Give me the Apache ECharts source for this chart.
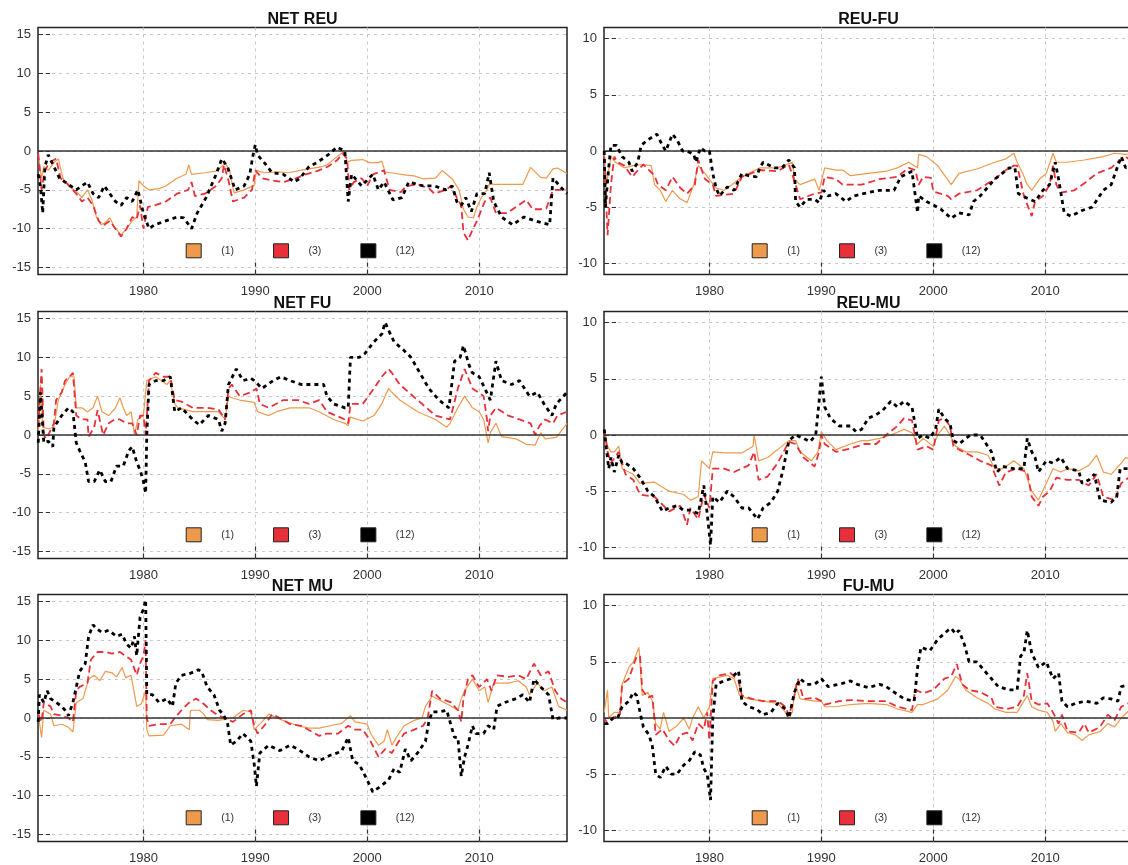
<!DOCTYPE html>
<html>
<head>
<meta charset="utf-8">
<title>Net spillovers</title>
<script src="https://cdn.jsdelivr.net/npm/echarts@6/dist/echarts.min.js"></script>
<style>
  html, body { margin: 0; padding: 0; background: #ffffff; overflow: hidden; }
  #chart { width: 1140px; height: 865px; }
</style>
</head>
<body>
<div id="chart"></div>
<script>
// ---- tick labels ----
const xTicks = [1980, 1990, 2000, 2010];
const yTicksWide = [-15, -10, -5, 0, 5, 10, 15];
const yTicksNarrow = [-10, -5, 0, 5, 10];
const seriesNames = ['(1)', '(3)', '(12)'];

// ---- NET REU ----
const netReu1 = [[1970.6,-0.5],[1970.9,-3.5],[1971.1,-2],[1971.5,-2.5],[1972.0,-1.5],[1972.4,-1],[1972.8,-3.5],[1973.3,-4.5],[1974.0,-5.2],[1974.5,-6],[1975.0,-5],[1975.4,-6.3],[1975.8,-8.5],[1976.2,-9.5],[1976.6,-9.2],[1977.0,-8.6],[1977.4,-9.8],[1978.0,-10.8],[1978.5,-10],[1979.0,-9],[1979.4,-8.5],[1979.6,-3.8],[1980.0,-4.5],[1980.5,-5],[1981.5,-4.8],[1982.0,-4.5],[1983.0,-3.5],[1983.8,-3],[1984.05,-1.8],[1984.3,-3],[1985.5,-2.8],[1986.5,-2.6],[1987.0,-2],[1987.3,-1.5],[1987.7,-2.5],[1988.1,-5.4],[1989.0,-5],[1989.9,-4.4],[1990.1,-2.5],[1990.8,-2.8],[1992.0,-2.7],[1993.0,-2.8],[1994.0,-2.5],[1994.8,-2.3],[1996.0,-2],[1996.4,-1.8],[1997.4,-0.6],[1998.0,0],[1998.2,-1.4],[1998.6,-1.2],[1999.6,-1.1],[2000.2,-1.5],[2001.0,-1.5],[2001.3,-1.3],[2001.6,-2.7],[2002.5,-2.9],[2003.5,-3.1],[2004.2,-3.2],[2005.0,-3.6],[2006.1,-3.5],[2006.7,-2.5],[2007.6,-3.6],[2008.2,-5],[2008.6,-7.5],[2009.0,-8.5],[2009.5,-8.6],[2009.8,-7.2],[2010.2,-6],[2010.7,-5],[2010.9,-4.3],[2012.0,-4.3],[2013.9,-4.3],[2014.6,-2.1],[2015.5,-3.4],[2016.0,-3.5],[2016.6,-2.3],[2017.0,-2.2],[2017.85,-2.9]];
const netReu3 = [[1970.6,-0.3],[1970.9,-5],[1971.2,-2.5],[1971.6,-1.5],[1972.2,-1],[1972.6,-3.5],[1973.2,-4.2],[1974.0,-5.5],[1974.5,-6.5],[1975.0,-6],[1975.5,-7],[1976.0,-9],[1976.4,-9.6],[1977.0,-9],[1977.5,-10],[1978.0,-11],[1978.5,-10],[1979.0,-8.5],[1979.4,-8.8],[1979.7,-7],[1980.0,-10],[1980.4,-7.2],[1981.0,-7],[1982.0,-6.5],[1983.0,-5.5],[1984.0,-5],[1984.3,-4],[1984.6,-5.8],[1985.5,-5.5],[1986.5,-4.5],[1987.0,-3.5],[1987.2,-1.8],[1987.6,-3.8],[1988.0,-6.5],[1989.0,-6],[1989.7,-5],[1990.0,-2.5],[1990.6,-3.5],[1991.5,-3.8],[1992.5,-4],[1993.5,-3.6],[1994.5,-3],[1995.5,-2.6],[1996.5,-2],[1997.3,-1.2],[1997.8,-0.3],[1998.2,-1],[1998.4,-5],[1998.8,-4],[1999.5,-3.5],[2000.0,-4.5],[2000.5,-3],[2001.5,-2.5],[2002.0,-5],[2003.0,-5.3],[2003.5,-4.5],[2004.5,-4.3],[2005.5,-4.8],[2006.0,-5.5],[2007.0,-5],[2007.5,-4.5],[2008.0,-6],[2008.4,-7],[2008.6,-10.5],[2009.0,-11.5],[2009.3,-10.5],[2009.8,-9],[2010.5,-6.5],[2011.0,-6],[2011.5,-8],[2012.5,-8],[2013.5,-7],[2014.2,-6.3],[2014.8,-7.5],[2015.5,-7.5],[2016.0,-7.4],[2016.6,-5],[2017.85,-5]];
const netReu12 = [[1970.6,-3],[1970.8,-4.5],[1971.0,-8],[1971.2,-2],[1971.5,-0.5],[1972.0,-2],[1972.5,-3.5],[1973.0,-4],[1973.5,-4.5],[1974.0,-5],[1974.5,-4.5],[1975.0,-4],[1975.5,-5.5],[1976.0,-6],[1976.5,-4.5],[1977.0,-5.5],[1977.5,-6.5],[1978.0,-7],[1978.5,-6],[1979.0,-6.5],[1979.5,-5],[1980.0,-8],[1980.5,-10],[1981.0,-9.5],[1982.0,-9],[1983.0,-8.5],[1983.6,-8.6],[1984.3,-10],[1984.8,-8],[1985.6,-6],[1986.5,-3],[1987.0,-1],[1987.5,-2],[1988.2,-5],[1989.0,-4.5],[1989.5,-3],[1989.8,-0.5],[1990.0,0.8],[1990.2,-0.5],[1990.8,-1.5],[1991.5,-2.8],[1992.5,-3],[1993.5,-4],[1994.0,-3.5],[1994.8,-2],[1995.5,-1.5],[1996.5,-0.5],[1997.3,0.5],[1998.0,0],[1998.3,-6.5],[1998.6,-3],[1999.5,-4.5],[2000.5,-3],[2001.0,-5],[2001.5,-4],[2002.3,-6.3],[2003.1,-6],[2003.7,-4],[2005.0,-4.5],[2006.0,-4.5],[2007.0,-5],[2007.6,-4.5],[2008.0,-6.5],[2008.4,-7],[2008.8,-6],[2009.3,-7.8],[2009.8,-5.5],[2010.5,-5.5],[2010.9,-2.8],[2011.3,-6.5],[2012.0,-8.5],[2013.0,-9.5],[2014.0,-8.5],[2015.0,-9],[2016.3,-9.5],[2016.6,-3.5],[2017.2,-4.5],[2017.85,-5.5]];

// ---- REU-FU ----
const reuFu1 = [[1970.6,-0.2],[1970.8,-3],[1971.2,-0.5],[1971.6,-1],[1972.4,-1.5],[1973.2,-1.3],[1974.0,-1.2],[1974.8,-1.3],[1975.1,-3],[1975.6,-3.5],[1976.1,-4.5],[1976.7,-3.5],[1977.3,-4.2],[1978.0,-4.6],[1978.6,-3],[1979.0,-1.3],[1979.6,-2],[1980.6,-3.3],[1981.3,-3.5],[1982.0,-3],[1982.9,-2.3],[1984.5,-1.5],[1986.1,-1.5],[1987.4,-1],[1987.6,-2.5],[1988.1,-3],[1989.4,-2.5],[1989.8,-3.5],[1990.3,-1.5],[1991.3,-1.7],[1991.9,-1.7],[1992.6,-2.2],[1994.2,-2],[1995.8,-1.8],[1996.8,-1.5],[1997.8,-1],[1998.6,-1.5],[1998.7,-0.3],[1999.4,-0.5],[2000.4,-1.3],[2001.6,-3],[2002.3,-2],[2003.9,-1.6],[2005.5,-1],[2006.5,-0.7],[2007.2,-0.2],[2007.5,-1],[2008.0,-2],[2008.4,-3],[2008.8,-3.5],[2009.5,-2.5],[2010.1,-2],[2010.7,-0.2],[2011.0,-1],[2012.0,-1],[2013.5,-0.8],[2015.2,-0.5],[2016.2,-0.2],[2017.2,-0.3],[2017.85,-0.2]];
const reuFu3 = [[1970.6,-0.5],[1970.75,-4],[1970.9,-7.5],[1971.2,-3],[1971.5,-0.5],[1971.8,-1],[1972.4,-1.3],[1973.1,-2.3],[1973.8,-1.5],[1974.1,-1.2],[1975.1,-2.2],[1975.4,-3],[1976.1,-3.5],[1976.7,-2.3],[1977.4,-3.3],[1978.0,-3.8],[1978.7,-3],[1979.0,-0.8],[1979.6,-2.5],[1980.3,-3],[1980.6,-4],[1982.2,-3.8],[1982.9,-2.3],[1984.5,-1.7],[1986.1,-1.8],[1987.1,-1.2],[1987.7,-3],[1988.1,-4.3],[1989.4,-3.8],[1990.0,-3.7],[1990.3,-2.3],[1991.3,-2.5],[1991.9,-3],[1993.6,-3],[1995.2,-2.5],[1996.8,-2.3],[1997.8,-1.5],[1998.4,-1.7],[1998.7,-3],[1999.1,-2.3],[1999.8,-2.4],[2000.0,-3.6],[2001.3,-4],[2001.6,-4.3],[2002.3,-3.8],[2003.9,-3.5],[2005.5,-2.5],[2006.5,-1.7],[2007.2,-1.3],[2007.5,-1.3],[2008.1,-4],[2008.8,-5.8],[2009.1,-4.5],[2009.8,-4],[2010.4,-3],[2010.7,-1.3],[2011.0,-3],[2011.4,-3.7],[2012.6,-3.5],[2013.6,-2.8],[2014.6,-2],[2015.9,-1.5],[2016.7,-0.8],[2017.2,-0.5],[2017.85,-1]];
const reuFu12 = [[1970.6,0],[1970.7,-5],[1971.0,-1.5],[1971.2,0.5],[1971.7,0.5],[1972.2,-0.5],[1972.8,-1],[1973.1,-1.8],[1973.6,-1],[1973.9,0.5],[1974.5,1],[1975.3,1.5],[1975.8,0.5],[1976.1,0],[1976.7,1.5],[1977.1,1],[1977.6,0],[1978.0,0],[1978.6,-0.3],[1978.8,-1],[1979.2,0.3],[1979.6,0],[1980.0,0],[1980.3,-2],[1980.6,-3.3],[1980.9,-4],[1981.6,-3.2],[1982.2,-3.5],[1982.9,-2],[1983.5,-2.2],[1984.2,-2.3],[1984.5,-1.5],[1984.8,-1],[1985.8,-1.5],[1986.5,-1.5],[1987.1,-0.8],[1987.6,-1.5],[1987.7,-4.5],[1988.1,-5],[1988.7,-4.3],[1989.4,-4.3],[1989.8,-4.6],[1990.2,-3.5],[1990.6,-4],[1991.3,-3.8],[1992.2,-4.5],[1992.9,-4],[1994.2,-3.7],[1995.2,-3.5],[1996.5,-3.5],[1997.1,-2.3],[1998.1,-1.8],[1998.6,-5.5],[1998.7,-4],[1999.4,-4.5],[2000.0,-4.8],[2000.7,-5.2],[2001.6,-6],[2002.3,-5.5],[2003.2,-5.7],[2003.6,-4.5],[2004.2,-4],[2005.5,-2.5],[2006.8,-1.5],[2007.3,-1.5],[2007.6,-3.8],[2008.4,-4.2],[2009.1,-4.5],[2009.8,-3.5],[2010.4,-3],[2010.9,-1],[2011.2,-2.5],[2011.7,-5.5],[2012.3,-5.8],[2013.3,-5.3],[2014.2,-5],[2015.2,-3.5],[2015.9,-3],[2016.5,-1.3],[2016.8,-0.5],[2017.2,-1.5],[2017.85,-1.3]];

// ---- NET FU ----
const netFu1 = [[1970.6,0.5],[1970.8,6.5],[1971.0,1],[1971.5,0.8],[1972.0,1],[1972.4,4.5],[1973.0,6.5],[1973.4,7.5],[1973.8,7.5],[1974.0,3.5],[1974.5,3.5],[1975.0,3],[1975.5,3.5],[1975.9,5],[1976.3,3],[1976.9,2.5],[1977.5,3.5],[1977.9,4.8],[1978.2,3.5],[1978.5,2.5],[1978.9,3],[1979.2,0],[1979.5,2],[1980.0,2.5],[1980.3,7],[1981.1,7.5],[1982.1,6.5],[1982.4,7],[1982.8,4],[1983.1,3.5],[1984.4,3],[1985.4,3],[1986.7,3],[1987.3,2],[1987.6,5],[1987.9,4.8],[1988.6,4.5],[1989.9,4.2],[1990.2,3],[1991.2,2.5],[1991.9,3],[1993.1,3.5],[1994.8,3.5],[1995.7,3],[1997.0,2],[1998.0,1.5],[1998.3,1.2],[1998.5,2.3],[1999.6,1.8],[2000.6,2.5],[2001.3,4],[2001.9,6],[2002.2,5.5],[2002.9,4.5],[2004.5,3],[2006.1,2],[2007.1,1],[2007.4,1.5],[2008.1,3.5],[2008.7,5],[2009.4,3.5],[2010.0,3],[2010.4,2],[2010.8,-1],[2011.0,0.3],[2011.5,1.5],[2012.0,-0.2],[2013.3,-0.5],[2014.2,-1.2],[2015.0,-1.3],[2015.5,0.3],[2015.9,-0.5],[2016.9,-0.3],[2017.85,1.5]];
const netFu3 = [[1970.6,1],[1970.9,8.5],[1971.1,0],[1971.3,-0.5],[1971.6,0.3],[1972.0,1.5],[1972.2,4.5],[1972.7,5.5],[1973.0,7],[1973.4,7.5],[1973.7,8],[1974.0,2.5],[1974.5,2],[1975.0,2],[1975.1,-0.2],[1975.6,1],[1975.9,3.2],[1976.4,0],[1976.9,1.5],[1977.4,2],[1977.9,2],[1978.5,1.5],[1979.0,1.5],[1979.4,0],[1979.7,2.5],[1980.0,2.5],[1980.2,0],[1980.5,7],[1981.1,8],[1981.8,7.5],[1982.4,7.5],[1982.8,4.5],[1983.4,4.3],[1984.4,3.5],[1985.7,3.5],[1986.7,3.3],[1987.3,2],[1987.6,6],[1987.9,6.5],[1988.6,5],[1989.6,5.5],[1990.1,6],[1990.4,4],[1991.2,3.5],[1992.5,4.5],[1993.8,4.5],[1994.8,4],[1995.7,4.5],[1996.4,3],[1998.0,2],[1998.3,1.5],[1998.5,4],[1999.6,4],[2000.6,6],[2001.3,7.5],[2001.9,8.5],[2002.2,8],[2002.9,6.5],[2004.5,4.5],[2006.1,2.5],[2007.4,2],[2008.1,6],[2008.7,8.5],[2009.4,6],[2010.4,5],[2010.7,2],[2010.8,0.5],[2011.0,2.5],[2011.5,3.5],[2012.6,2.5],[2013.6,2],[2014.6,1.5],[2015.0,0],[2015.4,1.2],[2015.9,2],[2016.6,1.5],[2017.0,2.5],[2017.85,3]];
const netFu12 = [[1970.6,-1],[1970.8,5.5],[1971.1,-1],[1971.5,-0.8],[1971.9,-1.5],[1972.0,1],[1972.7,2.5],[1973.3,3.5],[1973.7,3],[1974.0,-1],[1974.3,-2],[1974.8,-3.5],[1975.1,-6],[1975.6,-6],[1976.1,-4.5],[1976.6,-6],[1977.1,-6],[1977.6,-4],[1978.2,-4],[1978.7,-2],[1979.0,-1.5],[1979.4,-3.5],[1979.7,-4.5],[1980.0,-6],[1980.2,-7.5],[1980.3,0],[1980.5,6.5],[1981.1,7],[1981.8,7],[1982.4,7.5],[1982.8,3],[1983.4,3.5],[1984.4,2],[1985.0,1.3],[1985.8,2.5],[1986.7,2],[1987.0,0.5],[1987.3,1.5],[1987.6,6.5],[1988.3,8.5],[1988.9,7],[1989.6,7.3],[1989.9,7],[1990.6,6],[1991.6,7],[1992.3,7.5],[1993.1,7],[1994.1,6.5],[1995.1,6.5],[1996.1,6.5],[1996.4,5],[1997.0,4],[1998.0,3.5],[1998.3,3.5],[1998.5,10],[1999.3,10],[1999.8,10.5],[2000.6,12],[2001.3,13],[2001.6,14.5],[2001.9,13.5],[2002.4,12],[2003.2,11],[2003.9,10],[2004.5,8.5],[2005.5,6],[2006.4,4.5],[2007.3,3.5],[2007.8,9.5],[2008.3,10],[2008.6,11.5],[2009.1,9],[2009.4,8],[2010.0,7.5],[2010.5,6],[2011.0,4.5],[2011.5,9.5],[2012.0,7],[2012.9,6.5],[2013.6,7],[2014.5,5],[2015.2,5.5],[2015.8,4],[2016.5,2.5],[2016.9,4],[2017.85,5.5]];

// ---- REU-MU ----
const reuMu1 = [[1970.6,0.5],[1970.9,-1],[1971.2,-1.5],[1971.5,-1.5],[1971.9,-1],[1972.2,-3],[1973.2,-3.5],[1973.8,-4.3],[1975.1,-4.2],[1976.4,-5],[1977.7,-5.3],[1978.3,-5.8],[1979.0,-5.5],[1979.3,-2.3],[1980.0,-3],[1980.3,-1.5],[1981.3,-1.6],[1982.9,-1.6],[1983.9,-1],[1984.0,0],[1984.4,-2.3],[1985.2,-2],[1986.1,-1.3],[1987.1,-0.5],[1987.7,-0.5],[1988.1,-1.5],[1989.1,-2.3],[1989.7,-1.5],[1990.0,0.3],[1990.5,-0.5],[1991.3,-1.3],[1992.6,-0.8],[1993.6,-0.5],[1994.2,-0.5],[1995.2,-0.3],[1996.2,0],[1997.4,0.5],[1998.1,0.2],[1998.6,-0.8],[1999.1,-0.3],[2000.0,-1],[2000.4,0],[2001.0,0.8],[2001.5,0],[2002.0,-1],[2002.9,-1.5],[2003.9,-1.5],[2004.9,-1.8],[2005.5,-3],[2006.2,-3],[2007.2,-2.3],[2008.1,-3],[2008.8,-5],[2009.4,-5.8],[2010.1,-4.3],[2010.7,-3],[2011.4,-3.3],[2012.0,-3],[2013.0,-3.2],[2013.9,-2.7],[2014.6,-1.8],[2015.2,-3.3],[2015.9,-3.5],[2016.8,-2.5],[2017.2,-2],[2017.85,-2.3]];
const reuMu3 = [[1970.6,0.5],[1970.9,-1.5],[1971.2,-2.5],[1971.9,-1.5],[1972.5,-3.5],[1973.2,-4],[1973.8,-5.3],[1975.1,-5.5],[1976.4,-6.8],[1977.4,-6.3],[1978.0,-8],[1978.3,-6.5],[1979.0,-7.5],[1979.5,-5.3],[1980.0,-6.5],[1980.3,-3],[1981.3,-3],[1982.2,-3.3],[1983.5,-2.7],[1984.0,-1.5],[1984.4,-4],[1985.2,-3.7],[1986.1,-2.5],[1987.1,-0.6],[1987.7,-0.8],[1988.4,-2],[1989.4,-2.8],[1989.8,-1.5],[1990.0,0],[1990.3,-0.8],[1991.3,-1.5],[1992.6,-1.2],[1993.9,-0.8],[1994.9,-0.8],[1995.8,0],[1996.8,0.8],[1997.4,1.5],[1998.1,1.3],[1998.6,-1.3],[1999.4,-1],[2000.0,-1.3],[2000.5,1.3],[2001.0,1.5],[2001.5,0.8],[2001.8,-1],[2002.3,-1.3],[2003.3,-1.8],[2004.2,-2.3],[2005.2,-2.7],[2005.9,-4.5],[2006.5,-3.3],[2007.5,-3],[2008.4,-3.3],[2008.8,-5.5],[2009.4,-6.3],[2009.8,-5.5],[2010.4,-5],[2011.0,-3.8],[2012.0,-4],[2013.0,-4],[2013.9,-4.5],[2014.6,-3.5],[2015.2,-5.5],[2016.2,-5.8],[2016.8,-4.3],[2017.85,-3.5]];
const reuMu12 = [[1970.6,0.5],[1970.7,0.5],[1971.0,-3],[1971.2,-2],[1971.5,-3.3],[1971.9,-1.8],[1972.2,-2.5],[1972.5,-2.5],[1973.2,-3],[1973.8,-3.8],[1974.5,-5],[1975.1,-5.5],[1975.8,-6.8],[1976.4,-6.5],[1977.1,-6.3],[1977.7,-6.7],[1978.3,-6.7],[1979.0,-7],[1979.5,-4.5],[1979.8,-7],[1980.1,-9.8],[1980.3,-5.5],[1980.9,-6],[1981.6,-5],[1982.2,-5.5],[1982.9,-6.5],[1983.5,-6.5],[1984.3,-7.5],[1984.8,-6.5],[1985.5,-6],[1986.1,-5],[1986.6,-3],[1987.1,-0.5],[1987.7,0],[1988.4,-0.3],[1989.0,-0.6],[1989.5,0],[1989.8,3],[1990.0,5.2],[1990.3,2.5],[1990.8,1.5],[1991.6,0.8],[1992.6,0.8],[1993.1,0.3],[1993.6,0.5],[1994.2,1.5],[1994.9,1.8],[1995.5,2.2],[1996.2,3],[1996.8,2.5],[1997.4,3],[1998.1,2.5],[1998.6,-0.3],[1999.1,0],[1999.7,-0.3],[2000.2,0.5],[2000.5,2.3],[2001.0,1.5],[2001.5,1],[2001.8,-0.5],[2002.3,-0.8],[2003.3,0],[2004.2,0],[2005.2,-1.5],[2005.7,-3.3],[2006.2,-2.8],[2007.2,-3],[2008.1,-3],[2008.4,-0.3],[2008.8,-1.5],[2009.1,-2],[2009.4,-3.3],[2010.1,-2.3],[2010.7,-2.5],[2011.4,-2],[2012.0,-3],[2013.0,-3.2],[2013.3,-4.3],[2013.9,-4],[2014.4,-3.5],[2014.9,-5.8],[2015.9,-6],[2016.4,-5.5],[2016.7,-3],[2017.85,-3]];

// ---- NET MU ----
const netMu1 = [[1970.6,0.5],[1970.9,-2.5],[1971.1,1],[1971.7,0.5],[1972.0,-1],[1972.7,-0.8],[1973.3,-1.2],[1973.7,-1.8],[1974.0,2],[1974.6,2.5],[1975.1,5],[1975.6,5.5],[1976.1,4.8],[1976.6,6],[1977.2,5.8],[1977.6,5.3],[1978.1,6.5],[1978.4,5.2],[1978.9,5.5],[1979.4,1.5],[1979.8,1.8],[1980.2,3.5],[1980.3,-1.5],[1980.5,-2.3],[1981.8,-2.2],[1982.4,-1],[1983.4,-0.8],[1984.1,-1.5],[1984.2,1],[1985.0,1],[1985.4,0.5],[1985.7,-0.2],[1986.7,-0.3],[1988.0,0],[1988.9,1],[1989.6,0.8],[1989.9,-1.5],[1990.6,-0.5],[1991.2,0.5],[1991.9,0],[1992.8,-0.5],[1993.8,-1],[1994.8,-1.3],[1995.7,-1.3],[1996.7,-1],[1997.7,-0.7],[1998.5,0.3],[1998.9,-0.5],[2000.0,-0.8],[2000.3,-2],[2001.0,-3.5],[2001.5,-3],[2001.8,-1.5],[2002.2,-3.5],[2002.6,-2.5],[2003.3,-1],[2004.2,-0.3],[2004.9,0],[2005.2,1.5],[2005.8,2.8],[2006.5,2.3],[2007.5,1.5],[2008.1,1],[2008.4,2.5],[2008.7,3.5],[2009.4,5],[2010.0,3.5],[2010.5,4],[2010.8,2],[2011.3,4.5],[2012.6,4.5],[2013.5,4.8],[2014.2,4],[2014.5,3],[2015.2,4.5],[2015.8,3.5],[2016.5,4],[2017.1,1.5],[2017.85,1]];
const netMu3 = [[1970.6,0.5],[1970.9,-0.5],[1971.1,2],[1971.7,1.5],[1972.0,0.5],[1972.7,0.3],[1973.3,0],[1973.7,-0.5],[1974.0,3.5],[1974.3,4],[1975.0,4.5],[1975.3,7.5],[1975.9,8.5],[1976.6,8.5],[1977.2,8.3],[1977.9,8.5],[1978.4,8],[1978.9,7.5],[1979.4,5.5],[1979.7,7],[1980.0,8],[1980.2,10],[1980.3,0],[1980.5,-1],[1981.4,-0.8],[1982.4,-0.8],[1982.8,0],[1983.4,1],[1984.1,2],[1984.7,2.5],[1985.4,1.8],[1986.0,1],[1986.7,0.3],[1987.3,0],[1988.0,-0.5],[1988.9,0.5],[1989.6,1],[1989.9,-1],[1990.2,-2],[1990.9,-0.8],[1991.5,0.5],[1992.2,0],[1993.1,-0.8],[1994.1,-1],[1995.1,-1.8],[1995.7,-2.3],[1996.4,-2],[1997.4,-2],[1998.3,-1],[1998.9,-1.5],[1999.6,-1.5],[2000.3,-3],[2001.0,-5],[2001.6,-4],[2002.2,-4.5],[2002.6,-3.5],[2003.3,-2],[2004.2,-1.5],[2005.0,-1],[2005.4,0],[2005.8,3.5],[2006.5,2.5],[2007.5,2],[2008.1,1],[2008.4,-0.5],[2008.6,2.5],[2009.0,5],[2009.4,5.5],[2010.0,4],[2010.7,5],[2011.1,3.5],[2011.6,5.5],[2012.6,5.3],[2013.5,5.5],[2014.2,5],[2014.9,7],[2015.5,5.5],[2016.2,6],[2016.8,3.5],[2017.3,2.5],[2017.85,2]];
const netMu12 = [[1970.6,-0.5],[1970.7,3],[1971.1,2],[1971.4,3.5],[1971.7,2.5],[1972.2,2],[1972.7,1.5],[1973.0,1],[1973.3,0.3],[1973.7,2],[1974.0,4],[1974.3,6],[1974.8,7],[1975.1,10.5],[1975.5,12],[1975.8,11.5],[1976.3,11],[1976.9,11.3],[1977.6,10.5],[1978.1,10.8],[1978.5,9.5],[1978.9,9],[1979.2,10.5],[1979.4,8],[1979.7,13],[1980.0,14],[1980.2,15.2],[1980.3,3],[1980.8,3],[1981.4,2],[1982.1,2.5],[1982.6,1.5],[1982.9,4.5],[1983.4,5.5],[1984.1,5.7],[1984.9,6.2],[1985.2,6],[1985.7,4],[1986.3,3],[1986.8,1],[1987.1,0.5],[1987.5,-0.5],[1987.8,-3.5],[1988.3,-3],[1988.9,-2],[1989.6,-3],[1989.9,-6],[1990.1,-8.8],[1990.4,-4.5],[1991.2,-3.5],[1992.2,-4.2],[1993.1,-3.5],[1993.8,-4],[1994.8,-5],[1995.7,-5.5],[1996.7,-4.8],[1997.7,-4.3],[1998.3,-2.5],[1998.7,-5.5],[1999.3,-6],[2000.0,-8],[2000.5,-9.5],[2001.0,-9],[2001.9,-8],[2002.4,-6.5],[2002.9,-7],[2003.4,-4],[2003.9,-5.5],[2004.5,-4.5],[2005.2,-3],[2005.5,-0.5],[2005.8,0.8],[2006.5,0.8],[2007.1,1],[2007.4,-0.5],[2007.8,-2.5],[2008.1,-2.5],[2008.4,-7.5],[2008.7,-5],[2009.0,-3.5],[2009.4,-1],[2009.7,-2],[2010.4,-2],[2010.8,-1],[2011.3,-1.5],[2011.6,1.5],[2012.3,2],[2013.3,2.5],[2013.9,3],[2014.5,2],[2014.9,5],[2015.5,4],[2016.2,3],[2016.6,-0.2],[2017.1,0],[2017.85,0]];

// ---- FU-MU ----
const fuMu1 = [[1970.6,0.5],[1970.9,2.5],[1971.0,0],[1971.5,0.5],[1972.0,0.5],[1972.2,3],[1972.8,4.5],[1973.2,5],[1973.7,6.3],[1974.0,2],[1974.5,2.3],[1974.9,1.5],[1975.2,-0.5],[1975.6,-1],[1975.9,0.5],[1976.4,-1.2],[1977.1,-0.7],[1977.7,0],[1978.2,-1],[1978.5,0],[1979.0,1],[1979.5,0],[1980.0,1],[1980.3,3.5],[1981.6,3.8],[1982.2,3.5],[1982.7,2],[1983.5,1.7],[1984.8,1.5],[1986.1,1.3],[1986.8,0.5],[1987.1,0],[1987.4,0.5],[1987.7,3],[1988.1,1.7],[1989.4,1.5],[1990.0,1.5],[1990.3,1],[1991.3,1],[1992.6,1.2],[1994.2,1.3],[1995.8,1.2],[1996.8,0.8],[1998.1,0.5],[1998.6,1.2],[1999.1,1.2],[2000.4,1.7],[2001.3,2.5],[2002.0,3.7],[2002.3,3.5],[2002.9,2.5],[2003.9,1.8],[2004.9,1.3],[2005.5,0.8],[2006.5,0.5],[2007.5,0.5],[2008.1,1.5],[2008.4,2],[2008.8,1],[2009.4,0.7],[2010.2,0.5],[2010.7,-0.3],[2010.9,-1.2],[2011.4,-0.5],[2012.0,-1.3],[2012.7,-1.5],[2013.3,-2],[2013.9,-1.5],[2014.9,-1.2],[2015.6,-0.5],[2016.2,-0.8],[2016.8,0],[2017.85,1]];
const fuMu3 = [[1970.6,0],[1970.9,-0.5],[1971.4,0],[1972.0,0.3],[1972.2,3],[1972.8,3.5],[1973.5,5.5],[1973.8,5.5],[1974.0,2.5],[1974.5,1.8],[1974.9,2],[1975.2,-1.5],[1975.8,-1],[1976.4,-2],[1976.9,-2.5],[1977.4,-1.5],[1978.0,-1.3],[1978.5,-2],[1979.0,-0.5],[1979.5,-1],[1979.8,0.5],[1980.0,-2],[1980.3,3.3],[1980.9,3.8],[1981.9,4],[1982.6,3.3],[1982.9,2],[1983.8,1.7],[1984.8,1.5],[1986.1,1.5],[1986.8,1],[1987.1,0.2],[1987.6,2],[1987.9,3.5],[1988.4,1.7],[1989.4,1.8],[1990.0,1.5],[1990.3,1.2],[1991.6,1.5],[1992.6,1.6],[1994.2,1.5],[1995.8,1.5],[1996.8,1],[1998.1,0.7],[1998.4,2.5],[1999.1,2.2],[2000.0,2.5],[2001.0,3.5],[2001.6,3.7],[2002.1,4.8],[2002.6,3],[2003.2,2.5],[2004.2,2.3],[2005.2,1.8],[2005.5,1],[2006.5,0.8],[2007.5,1],[2008.1,2],[2008.4,4],[2008.8,1.5],[2009.4,1.2],[2010.2,1.3],[2010.7,0.5],[2011.2,-0.5],[2011.5,0.3],[2012.0,-1.2],[2013.0,-1.3],[2013.5,-0.5],[2013.9,-1.3],[2014.9,-0.8],[2015.6,0.3],[2016.2,-0.2],[2016.8,1],[2017.85,1.5]];
const fuMu12 = [[1970.6,-0.5],[1970.9,-0.5],[1971.4,0],[1971.8,0],[1972.2,1],[1972.8,1.5],[1973.2,2.3],[1973.5,2],[1973.8,0.5],[1974.1,-0.8],[1974.6,-1.5],[1974.9,-2.5],[1975.2,-5],[1975.6,-5.3],[1976.1,-4.3],[1976.6,-5],[1977.1,-5],[1977.7,-4.2],[1978.2,-3.8],[1978.7,-3],[1979.2,-3.3],[1979.5,-4.5],[1979.8,-5],[1980.1,-7.3],[1980.3,0],[1980.6,3],[1981.3,3.3],[1981.9,3.5],[1982.6,4.2],[1982.9,1.5],[1983.5,1],[1984.2,0.8],[1984.8,0.3],[1985.5,0.5],[1986.1,1.3],[1986.8,0.8],[1987.1,0],[1987.6,2.3],[1988.1,3.5],[1988.7,3],[1989.4,3],[1990.0,3.5],[1990.6,2.8],[1991.6,3],[1992.6,3.3],[1993.2,3],[1994.2,2.7],[1995.2,3],[1995.8,2.8],[1996.5,2.3],[1997.4,1.7],[1998.3,1.5],[1998.6,4.5],[1998.9,6.3],[1999.7,6],[2000.4,7],[2001.3,7.8],[2001.6,8],[2002.0,7.5],[2002.3,7.8],[2002.8,6.5],[2003.2,5],[2003.9,5],[2004.5,4.3],[2005.2,3.5],[2005.8,2.8],[2006.8,2.5],[2007.5,2.5],[2007.8,5.5],[2008.1,5.8],[2008.4,7.8],[2008.8,5.8],[2009.4,4.5],[2010.1,5],[2010.7,3.5],[2011.2,4],[2011.5,1.5],[2012.0,1],[2012.7,1.3],[2013.6,1.5],[2014.6,1.3],[2015.2,1.8],[2015.9,1.7],[2016.5,1.5],[2016.8,2.8],[2017.85,3]];

// ---- panel layout ----
const FONT = '"Liberation Sans", Arial, Helvetica, sans-serif';
const colLeft = [38, 604];
const rowTop = [27.5, 311.5, 594.5];
const gridW = 529, gridH = 247;
const X_MIN = 1970.58, X_MAX = 2017.85;

const panels = [
  { title: 'NET REU', data: [netReu1, netReu3, netReu12], lim: 15.9, ticks: yTicksWide },
  { title: 'REU-FU',  data: [reuFu1,  reuFu3,  reuFu12],  lim: 11.0, ticks: yTicksNarrow },
  { title: 'NET FU',  data: [netFu1,  netFu3,  netFu12],  lim: 15.9, ticks: yTicksWide },
  { title: 'REU-MU',  data: [reuMu1,  reuMu3,  reuMu12],  lim: 11.0, ticks: yTicksNarrow },
  { title: 'NET MU',  data: [netMu1,  netMu3,  netMu12],  lim: 15.9, ticks: yTicksWide },
  { title: 'FU-MU',   data: [fuMu1,   fuMu3,   fuMu12],   lim: 11.0, ticks: yTicksNarrow }
];

const lineColors = ['#ee9a4d', '#e8303a', '#000000'];
const lineStyles = [
  { width: 1.2, type: 'solid' },
  { width: 1.8, type: [7, 4] },
  { width: 2.8, type: [4, 4] }
];

const grids = [], xAxes = [], yAxes = [], series = [], titles = [], legends = [];

panels.forEach((p, i) => {
  const c = i % 2, r = Math.floor(i / 2);
  const left = colLeft[c], top = rowTop[r];

  grids.push({
    left: left, top: top, width: gridW, height: gridH,
    show: true, borderColor: '#222', borderWidth: 1.5, backgroundColor: 'transparent',
    containLabel: false
  });

  xAxes.push({
    type: 'value', gridIndex: i, min: X_MIN, max: X_MAX, position: 'bottom',
    axisLine: { show: false, onZero: false },
    axisTick: { show: true, inside: true, length: 12, customValues: xTicks,
                lineStyle: { color: '#333', width: 1.2, type: [5, 3] } },
    axisLabel: { show: true, customValues: xTicks, margin: 10,
                 formatter: v => String(v),
                 fontSize: 13, color: '#333', fontFamily: FONT },
    splitLine: { show: true, lineStyle: { color: '#c8c8c8', width: 1, type: [3, 4] } }
  });

  yAxes.push({
    type: 'value', gridIndex: i, min: -p.lim, max: p.lim, position: 'left',
    axisLine: { show: false, onZero: false },
    axisTick: { show: true, inside: true, length: 12, customValues: p.ticks,
                lineStyle: { color: '#333', width: 1.2, type: [5, 3] } },
    axisLabel: { show: true, customValues: p.ticks, margin: 7,
                 fontSize: 13, color: '#333', fontFamily: FONT },
    splitLine: { show: true, lineStyle: { color: '#c8c8c8', width: 1, type: [3, 4] } }
  });

  p.data.forEach((d, k) => {
    const s = {
      name: seriesNames[k], type: 'line', xAxisIndex: i, yAxisIndex: i,
      data: d, showSymbol: false, symbol: 'none', smooth: false,
      color: lineColors[k],
      lineStyle: { color: lineColors[k], width: lineStyles[k].width, type: lineStyles[k].type },
      z: 3 + k, silent: true
    };
    if (k === 0) {
      s.markLine = {
        symbol: 'none', silent: true, label: { show: false },
        lineStyle: { color: '#333', type: 'solid', width: 1.5 },
        data: [{ yAxis: 0 }]
      };
    }
    series.push(s);
  });

  titles.push({
    text: p.title, left: left + gridW / 2, top: top - 16, textAlign: 'center', padding: 0,
    textStyle: { fontSize: 16, fontWeight: 'bold', color: '#111', fontFamily: FONT }
  });

  legends.push({
    data: seriesNames, left: left + 147.7, top: top + 215.8, orient: 'horizontal',
    icon: 'rect', itemWidth: 15, itemHeight: 14, itemGap: 39, padding: 0,
    selectedMode: false,
    itemStyle: { borderColor: '#222', borderWidth: 1 },
    textStyle: { fontSize: 10.5, color: '#333', fontFamily: FONT, padding: [0, 0, 0, 15] }
  });
});

const chart = echarts.init(document.getElementById('chart'), null, { renderer: 'canvas' });
chart.setOption({
  backgroundColor: '#ffffff',
  animation: false,
  title: titles,
  legend: legends,
  grid: grids,
  xAxis: xAxes,
  yAxis: yAxes,
  series: series
});
</script>
</body>
</html>
